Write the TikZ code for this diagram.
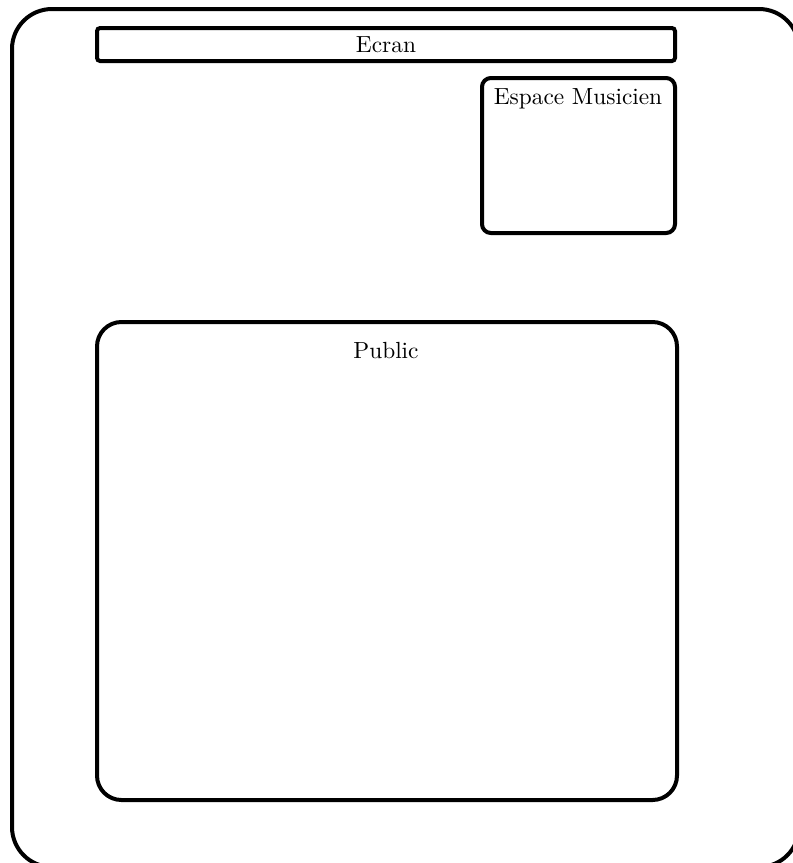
\documentclass[tikz,border=0pt]{standalone}
\usetikzlibrary{positioning}

\tikzset{
  zone/.style={draw, line width=1.8pt, rounded corners=#1},
  zone/.default=4pt,
  zonename/.style={font=\fontsize{10.5}{12}\selectfont, inner sep=0pt}
}

\begin{document}
\begin{tikzpicture}[x=0.45pt, y=-0.45pt]
  \useasboundingbox (0,0) rectangle (792,863);

  % salle
  \draw[zone=18pt] (12,9) rectangle (799,867);

  % ecran
  \draw[zone=1.4pt] (97,28) rectangle (675,61);
  \node[zonename] (ecran) at (386,45) {Ecran};

  % musiciens
  \draw[zone=4pt] (482,78) rectangle (675,233);
  \node[zonename] (musicien) at (578,99) {Espace Musicien};

  % public
  \draw[zone=11pt] (97,322) rectangle (677,800);
  \node[zonename] (public) at (386,351) {Public};
\end{tikzpicture}
\end{document}
